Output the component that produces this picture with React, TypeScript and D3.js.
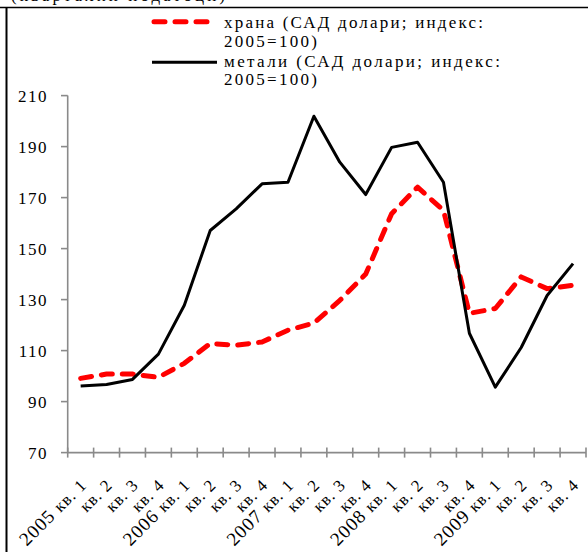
import React from 'react';
import * as d3 from 'd3';

// chart values
const years = ['2005', '', '', '', '2006', '', '', '', '2007', '', '', '', '2008', '', '', '', '2009', '', '', ''];
const quarters = ['кв. 1', 'кв. 2', 'кв. 3', 'кв. 4', 'кв. 1', 'кв. 2', 'кв. 3', 'кв. 4', 'кв. 1', 'кв. 2', 'кв. 3', 'кв. 4', 'кв. 1', 'кв. 2', 'кв. 3', 'кв. 4', 'кв. 1', 'кв. 2', 'кв. 3', 'кв. 4'];
const food = [99.1, 100.8, 100.8, 99.5, 105.0, 112.8, 112.1, 113.4, 118.0, 120.8, 129.7, 140.0, 163.7, 174.1, 165.0, 124.6, 126.5, 138.9, 134.3, 135.6];
const metals = [96.1, 96.7, 98.7, 108.6, 127.8, 157.1, 165.6, 175.4, 176.0, 201.9, 183.9, 171.2, 189.7, 191.7, 176.0, 116.8, 95.7, 111.2, 131.6, 144.1];
const yTicks = [70, 90, 110, 130, 150, 170, 190, 210];
const foodLabel = ['храна (САД долари; индекс:', '2005=100)'];
const metalsLabel = ['метали (САД долари; индекс:', '2005=100)'];
const title = '(квартални податоци)';

const W = 588, H = 552;
const font = '"Liberation Serif", "Times New Roman", serif';
const axisColor = '#8a8a8a';

const App = () => {
    const idx = d3.range(food.length).map(String);
    const x = d3.scaleBand().domain(idx).range([67.7, 586]).padding(0);
    const y = d3.scaleLinear().domain([70, 210]).range([452.6, 95.6]);
    const cx = (i) => x(String(i)) + x.bandwidth() / 2;

    const line = d3.line()
        .x((d, i) => cx(i))
        .y((d) => y(d));

    const bounds = idx.map((k) => x(k)).concat([x.range()[1]]);

    return (
        <svg width={W} height={H} style={{ position: 'absolute', left: 0, top: 0 }} fontFamily={font}>
            <rect width={W} height={H} fill="#fff" />
            {/* cut-off title and frame */}
            <text x={11} y={1} fontSize={17} textLength={214} lengthAdjust="spacing">{title}</text>
            <line x1={0} x2={W} y1={7.5} y2={7.5} stroke="#000" strokeWidth={1.5} />
            <line x1={6.5} x2={6.5} y1={7} y2={H} stroke="#000" strokeWidth={2} />

            {/* y axis */}
            <line x1={67.7} x2={67.7} y1={y(210)} y2={y(70)} stroke={axisColor} strokeWidth={1.6} />
            {yTicks.map((t) => (
                <g key={t}>
                    <line x1={61} x2={67.7} y1={y(t)} y2={y(t)} stroke={axisColor} strokeWidth={1.6} />
                    <text x={48} y={y(t) + 6.5} fontSize={17} textAnchor="end" letterSpacing={1.5}>{t}</text>
                </g>
            ))}

            {/* x axis */}
            <line x1={67.7} x2={586} y1={y(70)} y2={y(70)} stroke={axisColor} strokeWidth={1.6} />
            {bounds.map((b, i) => (
                <line key={i} x1={b} x2={b} y1={y(70) - 5} y2={y(70) + 5} stroke={axisColor} strokeWidth={1.6} />
            ))}
            {quarters.map((q, i) => (
                <text key={i} transform={`translate(${cx(i) + 7},${486}) rotate(-45)`} textAnchor="end" letterSpacing={1}>
                    {years[i] ? <tspan fontSize={19}>{years[i] + ' '}</tspan> : null}
                    <tspan fontSize={17}>{q}</tspan>
                </text>
            ))}

            {/* series */}
            <path d={line(food)} fill="none" stroke="#ff0000" strokeWidth={5} strokeDasharray="11 10" strokeLinecap="round" strokeLinejoin="round" />
            <path d={line(metals)} fill="none" stroke="#000" strokeWidth={3} strokeLinejoin="round" />

            {/* legend */}
            <line x1={154} x2={211} y1={21.7} y2={21.7} stroke="#ff0000" strokeWidth={5} strokeDasharray="11 10" strokeLinecap="round" />
            <text x={224} y={28.3} fontSize={17} textLength={259} lengthAdjust="spacing">{foodLabel[0]}</text>
            <text x={224} y={46.7} fontSize={17} textLength={93} lengthAdjust="spacing">{foodLabel[1]}</text>
            <line x1={152} x2={217} y1={62.3} y2={62.3} stroke="#000" strokeWidth={3} />
            <text x={224} y={66.7} fontSize={17} textLength={276} lengthAdjust="spacing">{metalsLabel[0]}</text>
            <text x={224} y={85} fontSize={17} textLength={93} lengthAdjust="spacing">{metalsLabel[1]}</text>
        </svg>
    );
};

export default App;
